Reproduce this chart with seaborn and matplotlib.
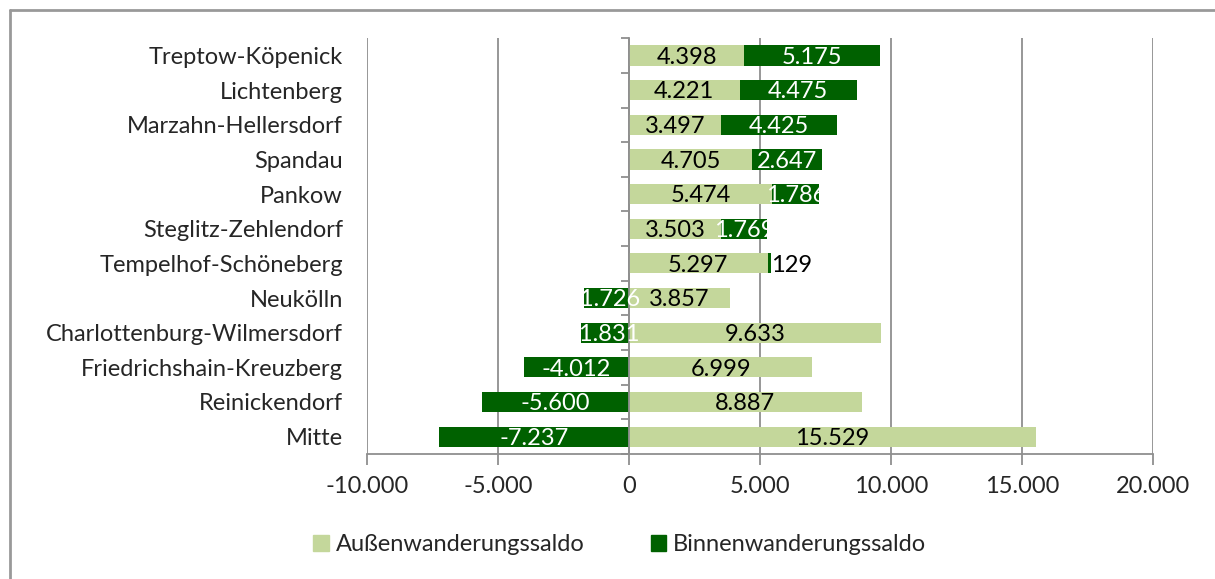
import pandas as pd
import numpy as np
import seaborn as sns
import matplotlib.pyplot as plt
from matplotlib.lines import Line2D
from matplotlib.patches import Patch

# Wanderungssaldo by Bezirk
bezirke = ['Treptow-Köpenick', 'Lichtenberg', 'Marzahn-Hellersdorf', 'Spandau',
           'Pankow', 'Steglitz-Zehlendorf', 'Tempelhof-Schöneberg', 'Neukölln',
           'Charlottenburg-Wilmersdorf', 'Friedrichshain-Kreuzberg',
           'Reinickendorf', 'Mitte']
aussen = [4398, 4221, 3497, 4705, 5474, 3503, 5297, 3857, 9633, 6999, 8887, 15529]
binnen = [5175, 4475, 4425, 2647, 1786, 1769, 129, -1726, -1831, -4012, -5600, -7237]

x_ticks = [-10000, -5000, 0, 5000, 10000, 15000, 20000]

light = '#c4d79b'
dark = '#006100'
grey = '#8f8f8f'

df = pd.DataFrame({'Bezirk': bezirke, 'aussen': aussen, 'binnen': binnen})
# positive Binnen stacks on top of Außen, negative goes left from zero
df['binnen_end'] = np.where(df['binnen'] > 0, df['aussen'] + df['binnen'], df['binnen'])


def de_fmt(v):
    return f'{v:,.0f}'.replace(',', '.')


sns.set_theme(style='white')
plt.rcParams['font.family'] = ['Lato', 'DejaVu Sans']
fs = 17

fig = plt.figure(figsize=(12.15, 5.79), dpi=100)
ax = fig.add_axes([0.302, 0.216, 0.647, 0.718])

sns.barplot(data=df, y='Bezirk', x='binnen_end', orient='h', color=dark,
            width=0.58, saturation=1, ax=ax, edgecolor='none')
sns.barplot(data=df, y='Bezirk', x='aussen', orient='h', color=light,
            width=0.58, saturation=1, ax=ax, edgecolor='none')

ax.set_xlim(-10000, 20000)
ax.set_ylim(len(bezirke) - 0.5, -0.5)
ax.set_xticks(x_ticks)
ax.set_xticklabels([de_fmt(t) for t in x_ticks], fontsize=fs)
ax.set_xlabel('')
ax.set_ylabel('')

# grid and axes styling
ax.set_axisbelow(True)
ax.xaxis.grid(True, color=grey, linewidth=1.3)
for s in ['top', 'right']:
    ax.spines[s].set_visible(False)
ax.spines['bottom'].set_color(grey)
ax.spines['bottom'].set_linewidth(1.3)
ax.spines['left'].set_position(('data', 0))
ax.spines['left'].set_color(grey)
ax.spines['left'].set_linewidth(1.3)
ax.tick_params(axis='x', which='major', length=8, color=grey, width=1.3,
               direction='out', bottom=True, pad=8)
ax.tick_params(axis='y', which='major', length=0, pad=206, labelsize=fs)
ax.set_yticks(np.arange(-0.5, len(bezirke), 1.0), minor=True)
ax.tick_params(axis='y', which='minor', length=6, color=grey, width=1.3,
               direction='out', left=True)

# value labels
for i, row in df.iterrows():
    ax.text(row['aussen'] / 2, i + 0.05, de_fmt(row['aussen']), ha='center',
            va='center', fontsize=fs, color='black')
    b = row['binnen']
    if abs(b) < 500:
        ax.text(row['aussen'] + b, i + 0.05, de_fmt(b), ha='left', va='center',
                fontsize=fs, color='black')
    else:
        cx = row['aussen'] + b / 2 if b > 0 else b / 2
        ax.text(cx, i + 0.05, de_fmt(b), ha='center', va='center', fontsize=fs,
                color='white')

handles = [Patch(color=light, label='Außenwanderungssaldo'),
           Patch(color=dark, label='Binnenwanderungssaldo')]
fig.legend(handles=handles, loc='center', bbox_to_anchor=(0.51, 0.059),
           ncol=2, frameon=False, fontsize=fs, handlelength=0.65,
           handleheight=0.65, handletextpad=0.3, columnspacing=2.8)

# chart frame
fig.add_artist(Line2D([0.0085, 0.0085], [0, 0.983], color='#999999', linewidth=2))
fig.add_artist(Line2D([0.0085, 1.0], [0.983, 0.983], color='#999999', linewidth=2))

plt.savefig('out.png', dpi=100)
